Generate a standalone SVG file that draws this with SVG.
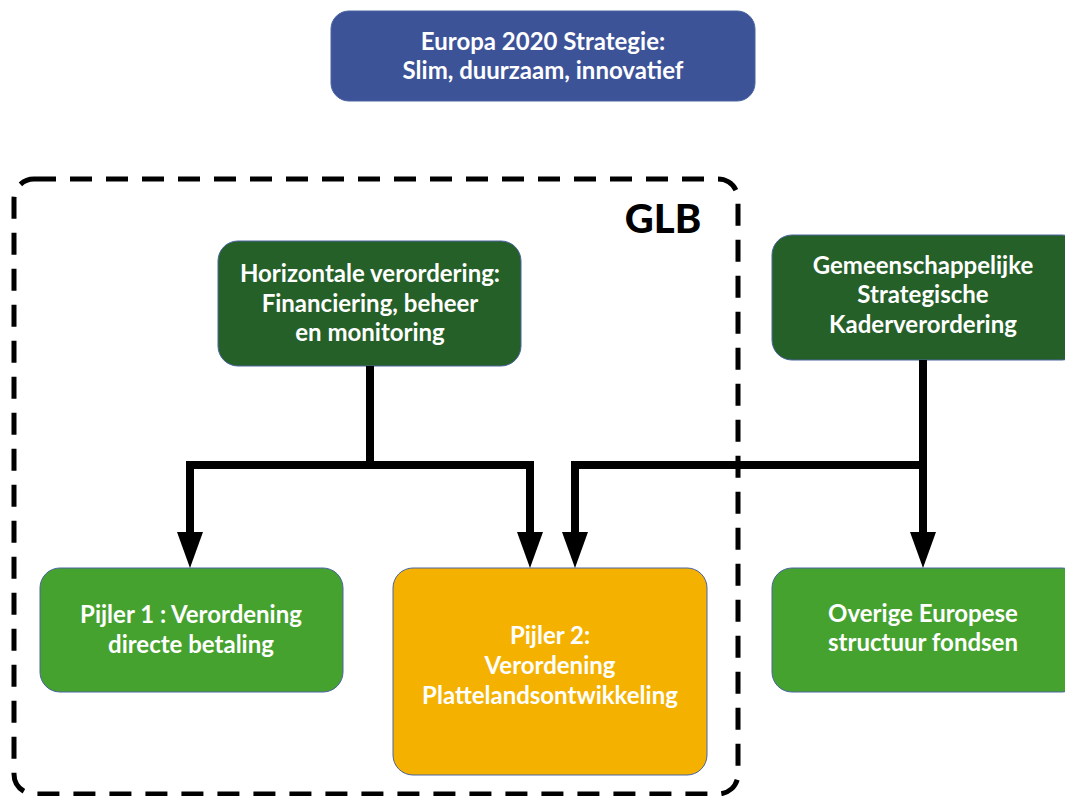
<svg xmlns="http://www.w3.org/2000/svg" width="1065" height="796" viewBox="0 0 1065 796">
<defs>
<style>
.box{stroke:#4a64a0;stroke-width:1}
.t{font-family:Lato,"Open Sans","Liberation Sans",sans-serif;font-weight:bold;fill:#fff;text-anchor:middle;font-size:24px}
.c{fill:none;stroke:#000;stroke-width:8}
</style>
<path id="arrow" d="M-13,0 L13,0 L0,36 Z" fill="#000"/>
</defs>
<rect width="1065" height="796" fill="#fff"/>
<g id="glb">
<rect x="14" y="179" width="724" height="615" rx="20" fill="none" stroke="#000" stroke-width="5" stroke-dasharray="22,14"/>
<text x="663" y="233" style="font-family:Lato,'Open Sans',sans-serif;font-weight:900;font-size:40px;fill:#000" text-anchor="middle">GLB</text>
</g>
<g id="europa">
<rect class="box" x="331" y="11" width="424" height="90" rx="18" fill="#3d5398"/>
<text class="t" x="543" y="50">Europa 2020 Strategie:</text>
<text class="t" x="543" y="79">Slim, duurzaam, innovatief</text>
</g>
<g id="horizontaal">
<rect class="box" x="218" y="241" width="303" height="125" rx="20" fill="#266029"/>
<text class="t" x="370" y="282">Horizontale verordering:</text>
<text class="t" x="370" y="312">Financiering, beheer</text>
<text class="t" x="370" y="341">en monitoring</text>
</g>
<g id="gskv">
<rect class="box" x="772" y="235" width="310" height="125" rx="20" fill="#266029"/>
<text class="t" x="923" y="274">Gemeenschappelijke</text>
<text class="t" x="923" y="303">Strategische</text>
<text class="t" x="923" y="333">Kaderverordering</text>
</g>
<g id="pijler1">
<rect class="box" x="40" y="568" width="303" height="124" rx="20" fill="#46a22f"/>
<text class="t" x="191" y="623">Pijler 1 : Verordening</text>
<text class="t" x="191" y="653">directe betaling</text>
</g>
<g id="pijler2">
<rect class="box" x="393" y="568" width="314" height="207" rx="20" fill="#f5b100"/>
<text class="t" x="550" y="644">Pijler 2:</text>
<text class="t" x="550" y="674">Verordening</text>
<text class="t" x="550" y="704">Plattelandsontwikkeling</text>
</g>
<g id="overige">
<rect class="box" x="772" y="568" width="310" height="124" rx="20" fill="#46a22f"/>
<text class="t" x="923" y="622">Overige Europese</text>
<text class="t" x="923" y="651">structuur fondsen</text>
</g>
<g id="connectors">
<path class="c" d="M370,366 V465 M186,465 H534 M190,461 V535 M530,461 V535"/>
<path class="c" d="M923,360 V535 M571,465 H927 M575,461 V535"/>
<use href="#arrow" x="190" y="532"/>
<use href="#arrow" x="530" y="532"/>
<use href="#arrow" x="575" y="532"/>
<use href="#arrow" x="923" y="532"/>
</g>
</svg>
